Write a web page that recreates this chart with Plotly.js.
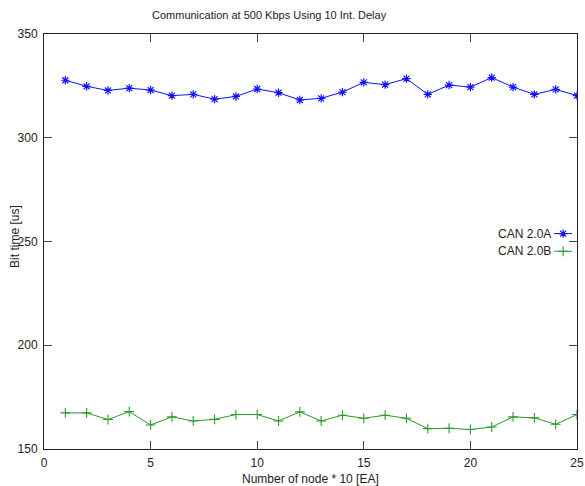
<!DOCTYPE html>
<html>
<head>
<meta charset="utf-8">
<script src="https://cdn.plot.ly/plotly-3.0.1.min.js"></script>
<style>html,body{margin:0;padding:0;background:#fff;} #chart{width:585px;height:486px;}</style>
</head>
<body>
<div id="chart"></div>
<script>
// Data
const nodes = [1,2,3,4,5,6,7,8,9,10,11,12,13,14,15,16,17,18,19,20,21,22,23,24,25];
const can20A = [327.7,324.8,322.8,323.9,323.0,320.3,320.9,318.6,319.9,323.5,321.7,318.2,319.0,322.0,326.7,325.6,328.5,320.9,325.4,324.4,329.0,324.4,320.9,323.3,320.3];
const can20B = [167.4,167.4,164.2,168.0,161.6,165.5,163.5,164.3,166.6,166.6,163.5,167.9,163.5,166.3,164.8,166.3,164.8,159.8,160.0,159.4,160.6,165.5,165.0,161.9,166.6];
const seriesNames = ["CAN 2.0A", "CAN 2.0B"];
const xTicks = [0,5,10,15,20,25];
const yTicks = [150,200,250,300,350];

const blue = "#1010ff";
const green = "#2a9a2a";
const font = {family: "Liberation Sans, Arial, sans-serif", size: 12, color: "#222"};
const titleFont = {family: "Liberation Sans, Arial, sans-serif", size: 11, color: "#222"};

const blueMarker = {symbol: "asterisk-open", size: 7, color: blue, line: {color: blue, width: 1.2}};
const greenMarker = {symbol: "cross-thin-open", size: 7, color: green, line: {color: green, width: 1.1}};

const traces = [
  {x: nodes, y: can20A, name: seriesNames[0], mode: "lines+markers",
   line: {color: blue, width: 1}, marker: blueMarker, showlegend: false},
  {x: nodes, y: can20B, name: seriesNames[1], mode: "lines+markers",
   line: {color: green, width: 1}, marker: greenMarker, showlegend: false},
  // legend keys (gnuplot-style: label text, then sample on the right)
  {x: [0.957, 0.9906], y: [0.519, 0.519], xaxis: "x2", yaxis: "y2", mode: "lines",
   line: {color: blue, width: 1}, showlegend: false, hoverinfo: "skip"},
  {x: [0.974], y: [0.519], xaxis: "x2", yaxis: "y2", mode: "markers",
   marker: blueMarker, showlegend: false, hoverinfo: "skip"},
  {x: [0.957, 0.9906], y: [0.4765, 0.4765], xaxis: "x2", yaxis: "y2", mode: "lines",
   line: {color: green, width: 1}, showlegend: false, hoverinfo: "skip"},
  {x: [0.974], y: [0.4765], xaxis: "x2", yaxis: "y2", mode: "markers",
   marker: greenMarker, showlegend: false, hoverinfo: "skip"}
];

const layout = {
  width: 585, height: 486,
  margin: {l: 44, r: 8, t: 33.5, b: 37},
  paper_bgcolor: "#fff", plot_bgcolor: "#fff",
  font: font,
  showlegend: false,
  xaxis: {
    range: [0, 25], tickvals: xTicks, ticktext: xTicks.map(String),
    ticks: "inside", ticklen: 8, tickcolor: "#444", tickwidth: 1,
    showline: true, linecolor: "#222", linewidth: 1, mirror: "ticks",
    showgrid: false, zeroline: false, tickfont: font, ticklabelstandoff: 3
  },
  yaxis: {
    range: [150, 350], tickvals: yTicks, ticktext: yTicks.map(String),
    ticks: "inside", ticklen: 8, tickcolor: "#444", tickwidth: 1,
    showline: true, linecolor: "#222", linewidth: 1, mirror: "ticks",
    showgrid: false, zeroline: false, tickfont: font, ticklabelstandoff: 3
  },
  xaxis2: {range: [0, 1], overlaying: "x", visible: false, fixedrange: true},
  yaxis2: {range: [0, 1], overlaying: "y", visible: false, fixedrange: true},
  title: {text: "Communication at 500 Kbps Using 10 Int. Delay", font: titleFont,
          x: 0.46, xanchor: "center", y: 0.969, yanchor: "middle"},
  annotations: [
    {text: seriesNames[0], xref: "paper", yref: "paper", x: 0.955, y: 0.519, xanchor: "right", yanchor: "middle", showarrow: false, font: font},
    {text: seriesNames[1], xref: "paper", yref: "paper", x: 0.955, y: 0.4765, xanchor: "right", yanchor: "middle", showarrow: false, font: font},
    {text: "Number of node * 10 [EA]", xref: "paper", yref: "paper", x: 0.5, y: -0.072, xanchor: "center", yanchor: "middle", showarrow: false, font: font},
    {text: "Bit time [us]", xref: "paper", yref: "paper", x: -0.0544, y: 0.511, xanchor: "center", yanchor: "middle", textangle: -90, showarrow: false, font: font}
  ]
};

Plotly.newPlot("chart", traces, layout, {displayModeBar: false, staticPlot: true});
</script>
</body>
</html>
